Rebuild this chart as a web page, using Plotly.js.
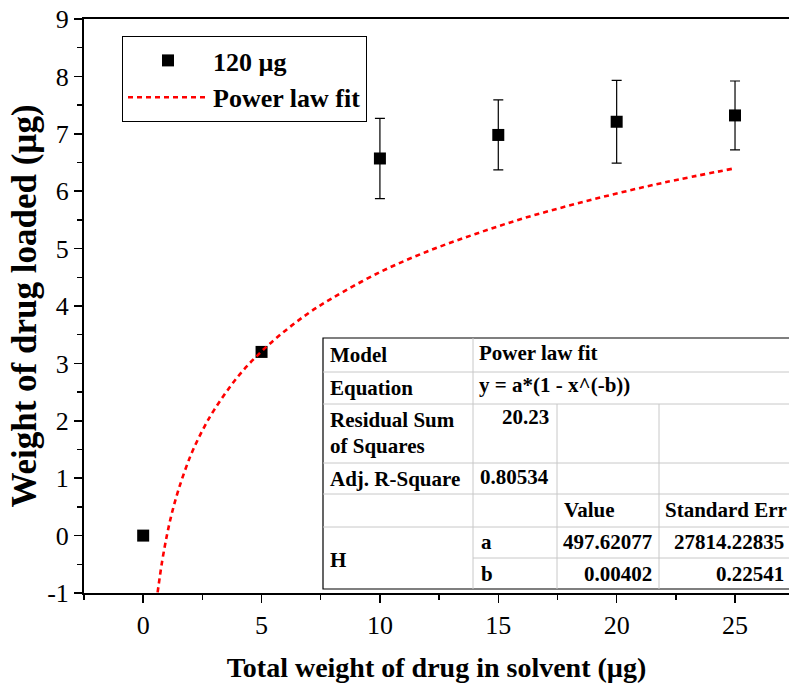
<!DOCTYPE html>
<html>
<head>
<meta charset="utf-8">
<script src="https://cdn.plot.ly/plotly-3.0.1.min.js"></script>
<style>html,body{margin:0;padding:0;background:#fff;}#chart{width:789px;height:689px;}</style>
</head>
<body>
<div id="chart"></div>
<script>
// Measured data (120 µg series)
const xData = [0, 5, 10, 15, 20, 25];
const yData = [0, 3.2, 6.57, 6.98, 7.21, 7.32];
const yErr = [0, 0, 0.7, 0.61, 0.72, 0.6];

// Power law fit curve
const xFit = [0.61, 0.8, 1, 1.2, 1.5, 2, 2.5, 3, 4, 5, 6, 7, 8, 10, 12, 14, 16, 18, 20, 22, 25];
const yFit = [-0.99, -0.45, 0, 0.37, 0.81, 1.39, 1.83, 2.19, 2.77, 3.21, 3.57, 3.88, 4.14, 4.59, 4.95, 5.25, 5.52, 5.75, 5.96, 6.15, 6.4];

const seriesNames = ["120 µg", "Power law fit"];
const xTitle = "Total weight of drug in solvent (µg)";
const yTitle = "Weight of drug loaded (µg)";
const xTickVals = [0, 5, 10, 15, 20, 25];
const xTickText = ["0", "5", "10", "15", "20", "25"];
const yTickVals = [-1, 0, 1, 2, 3, 4, 5, 6, 7, 8, 9];
const yTickText = ["-1", "0", "1", "2", "3", "4", "5", "6", "7", "8", "9"];

// Fit table contents
const tableRows = [
  ["Model", "Power law fit"],
  ["Equation", "y = a*(1 - x^(-b))"],
  ["Residual Sum", "of Squares", "20.23"],
  ["Adj. R-Square", "0.80534"],
  ["Value", "Standard Err"],
  ["H", "a", "497.62077", "27814.22835"],
  ["b", "0.00402", "0.22541"]
];

const FONT = "Liberation Serif";
const W = 789, H = 689;
const L = 84, T = 19, R = 0, B = 96;
const PW = W - L - R, PH = H - T - B;
function px(x) { return (x - L) / PW; }
function pyy(y) { return (H - B - y) / PH; }

const traces = [
  {
    x: xData, y: yData, type: "scatter", mode: "markers", name: seriesNames[0],
    marker: { symbol: "square", size: 12, color: "#000" },
    error_y: { type: "data", array: yErr, visible: true, color: "#000", thickness: 1.2, width: 5 }
  },
  {
    x: xFit, y: yFit, type: "scatter", mode: "lines", name: seriesNames[1],
    line: { color: "#ff0000", width: 2.6, dash: "5px,4px", shape: "spline" }
  }
];

// Table geometry (pixels)
const tL = 323, tR = 800, tT = 338;
const colX = [323, 473, 557, 659];
const rowY = [338, 372, 404, 463, 494, 527, 558, 589];
const shapes = [];
const annotations = [];
function hline(x0, x1, y, color) {
  shapes.push({ type: "line", xref: "paper", yref: "paper", x0: px(x0), x1: px(x1), y0: pyy(y), y1: pyy(y), line: { color: color, width: 1 } });
}
function vline(x, y0, y1, color) {
  shapes.push({ type: "line", xref: "paper", yref: "paper", x0: px(x), x1: px(x), y0: pyy(y0), y1: pyy(y1), line: { color: color, width: 1 } });
}
shapes.push({ type: "rect", xref: "paper", yref: "paper", x0: px(tL), x1: px(tR), y0: pyy(rowY[7]), y1: pyy(tT), fillcolor: "#fff", line: { color: "#000", width: 1.2 }, layer: "above" });
const GRAY = "#c8c8c8";
hline(tL, tR, rowY[1], GRAY);
hline(tL, tR, rowY[2], GRAY);
hline(tL, tR, rowY[3], GRAY);
hline(tL, tR, rowY[4], GRAY);
hline(tL, tR, rowY[5], GRAY);
hline(colX[1], tR, rowY[6], GRAY);
vline(colX[1], rowY[0], rowY[7], GRAY);
vline(colX[2], rowY[2], rowY[7], GRAY);
vline(colX[3], rowY[2], rowY[7], GRAY);

function txt(t, x, y, anchor) {
  annotations.push({ text: "<b>" + t + "</b>", xref: "paper", yref: "paper", x: px(x), y: pyy(y), xanchor: anchor, yanchor: "middle", showarrow: false, font: { family: FONT, size: 21, color: "#000" } });
}
txt(tableRows[0][0], 328, 355, "left");
txt(tableRows[0][1], 477, 353, "left");
txt(tableRows[1][0], 328, 388, "left");
txt(tableRows[1][1], 477, 385, "left");
txt(tableRows[2][0], 328, 420, "left");
txt(tableRows[2][1], 328, 446, "left");
txt(tableRows[2][2], 551, 417, "right");
txt(tableRows[3][0], 328, 479, "left");
txt(tableRows[3][1], 551, 477, "right");
txt(tableRows[4][0], 562, 510, "left");
txt(tableRows[4][1], 663, 510, "left");
txt(tableRows[5][0], 328, 560, "left");
txt(tableRows[5][1], 479, 542, "left");
txt(tableRows[5][2], 654, 542, "right");
txt(tableRows[5][3], 786, 542, "right");
txt(tableRows[6][0], 479, 574, "left");
txt(tableRows[6][1], 654, 574, "right");
txt(tableRows[6][2], 786, 574, "right");

const layout = {
  width: W, height: H,
  margin: { l: L, r: R, t: T, b: B, pad: 0 },
  paper_bgcolor: "#fff", plot_bgcolor: "#fff",
  font: { family: FONT, size: 24, color: "#000" },
  showlegend: true,
  legend: {
    x: px(122), y: pyy(36), xanchor: "left", yanchor: "top",
    bgcolor: "#fff", bordercolor: "#000", borderwidth: 1,
    font: { family: FONT, size: 26, color: "#000", weight: "bold" },
    itemwidth: 80, tracegroupgap: 0
  },
  xaxis: {
    range: [-2.5, 27.28], tickmode: "array", tickvals: xTickVals, ticktext: xTickText,
    ticks: "outside", ticklen: 8, tickwidth: 1.5, tickcolor: "#000",
    showline: true, linecolor: "#000", linewidth: 2, mirror: true,
    showgrid: false, zeroline: false, showticklabels: true,
    tickfont: { family: FONT, size: 26, color: "#000" },
    minor: { dtick: 2.5, tick0: 0, ticks: "outside", ticklen: 5, tickwidth: 1.5, tickcolor: "#000", showgrid: false },
    title: { text: "<b>" + xTitle + "</b>", font: { family: FONT, size: 28, color: "#000" }, standoff: 18 }
  },
  yaxis: {
    range: [-1, 9], tickmode: "array", tickvals: yTickVals, ticktext: yTickText,
    ticks: "outside", ticklen: 8, tickwidth: 1.5, tickcolor: "#000",
    showline: true, linecolor: "#000", linewidth: 2,
    showgrid: false, zeroline: false, showticklabels: true,
    tickfont: { family: FONT, size: 26, color: "#000" },
    minor: { dtick: 0.5, tick0: 0, ticks: "outside", ticklen: 5, tickwidth: 1.5, tickcolor: "#000", showgrid: false },
    title: { text: "<b>" + yTitle + "</b>", font: { family: FONT, size: 35, color: "#000" }, standoff: 0 }
  },
  shapes: shapes,
  annotations: annotations
};

Plotly.newPlot("chart", traces, layout, { displayModeBar: false, staticPlot: true });
</script>
</body>
</html>
